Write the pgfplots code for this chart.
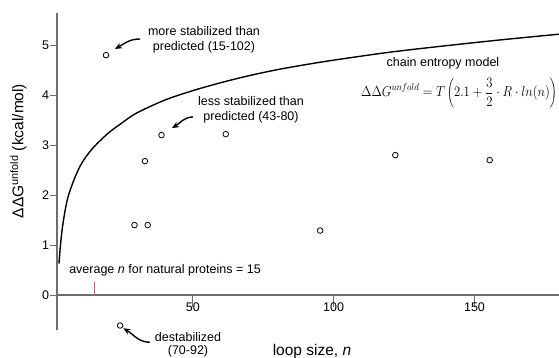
\documentclass[border=0pt]{standalone}
\usepackage{pgfplots}
\pgfplotsset{compat=1.18}
\usepackage{fontspec}
\setmainfont{Liberation Sans}
\usetikzlibrary{arrows.meta}
\definecolor{axgray}{RGB}{110,110,110}
\definecolor{avgred}{RGB}{214,80,105}
\begin{document}
\begin{tikzpicture}[x=1pt,y=1pt]
\path[use as bounding box] (0,0) rectangle (559,358);
\begin{axis}[
  at={(57pt,28pt)}, anchor=south west,
  scale only axis, width=502pt, height=317.3pt,
  xmin=1.8, xmax=180, ymin=-0.7, ymax=5.65,
  axis x line=middle, axis y line=left,
  axis line style={-, draw=axgray, line width=1.3pt},
  xtick={50,100,150}, ytick={0,1,2,3,4,5},
  tick align=outside,
  tick style={axgray, line width=0.9pt},
  xtick style={/pgfplots/major tick length=12pt},
  ytick style={/pgfplots/major tick length=7pt},
  ticklabel style={font=\fontsize{12.5}{14}\selectfont},
  /pgf/number format/assume math mode=true,
  clip=false,
]
\addplot[black, line width=1.4pt, smooth] coordinates {
(2.5,0.63)(3,0.98)(3.5,1.25)(4,1.46)(5,1.79)(6,2.02)(8,2.33)(10,2.58)(12,2.76)(15,2.97)(20,3.24)(25,3.45)(30,3.64)(40,3.9)(50,4.09)(60,4.25)(70,4.39)(80,4.51)(90,4.61)(100,4.70)(120,4.86)(140,4.99)(160,5.11)(180,5.22)
};
\addplot[only marks, mark=o, mark size=2.8pt, mark options={line width=0.8pt, black}] coordinates {
(19.2,4.8)(38.9,3.2)(33,2.68)(61.7,3.22)(29.3,1.4)(34,1.4)(95.2,1.29)(121.9,2.8)(155.4,2.7)(24.2,-0.61)
};
\addplot[avgred, line width=1.2pt] coordinates {(15,0)(15,0.26)};
\end{axis}
\begin{scope}[every node/.style={font=\fontsize{12.5}{14.5}\selectfont, align=center}]
\node at (204,318) {more stabilized than\\predicted (15-102)};
\node at (251,248) {less stabilized than\\predicted (43-80)};
\node at (443,295) {chain entropy model};
\node at (165,88) {average \textit{n} for natural proteins = 15};
\node[font=\fontsize{12.5}{13.5}\selectfont] at (188,13) {destabilized\\(70-92)};
\end{scope}
\node[font=\fontsize{14.5}{17}\selectfont, inner sep=0pt, xscale=0.88, transform shape] at (459,265) {$\displaystyle\Delta\Delta G^{unfold} = T\left(2.1+\frac{3}{2}\cdot R\cdot ln(n)\right)$};
\node[font=\fontsize{15.5}{17}\selectfont] at (312,7) {loop size, \textit{n}};
\node[font=\fontsize{15.5}{17}\selectfont, rotate=90] at (18.5,207) {ΔΔG\textsuperscript{unfold} (kcal/mol)};
\draw[-{Stealth[length=7pt,width=6pt]}, line width=1.4pt] (140,319) to[out=180,in=30] (115,309);
\draw[-{Stealth[length=7pt,width=6pt]}, line width=1.4pt] (193,241) to[out=180,in=30] (172,230);
\draw[-{Stealth[length=7pt,width=6pt]}, line width=1.4pt] (150,15.7) to[out=180,in=-30] (123.3,29.7);
\end{tikzpicture}
\end{document}
